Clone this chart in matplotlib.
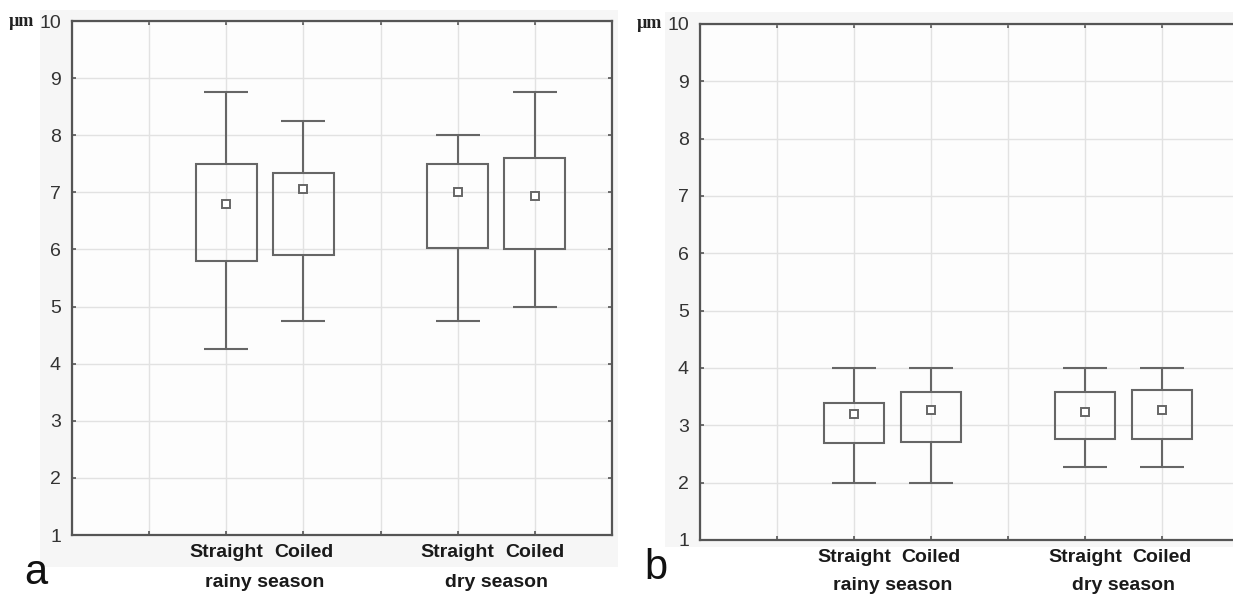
import matplotlib.pyplot as plt
from matplotlib.patches import Rectangle

groups = ['rainy season', 'dry season']
forms = ['Straight', 'Coiled']
xpos = [2, 3, 5, 6]

# panel a: whisker max, box top, mean, box bottom, whisker min
a_wmax = [8.75, 8.25, 8.0, 8.75]
a_q3 = [7.5, 7.33, 7.5, 7.6]
a_mean = [6.8, 7.05, 7.0, 6.93]
a_q1 = [5.8, 5.9, 6.02, 6.0]
a_wmin = [4.25, 4.75, 4.75, 5.0]

# panel b
b_wmax = [4.0, 4.0, 4.0, 4.0]
b_q3 = [3.39, 3.58, 3.58, 3.62]
b_mean = [3.2, 3.26, 3.23, 3.26]
b_q1 = [2.69, 2.71, 2.76, 2.76]
b_wmin = [2.0, 2.0, 2.27, 2.27]

W, H = 1233, 594
fig = plt.figure(figsize=(W / 100, H / 100), dpi=100)
fig.patch.set_facecolor('white')

# light grey screenshot backgrounds
fig.patches.append(Rectangle((40 / W, 1 - 567 / H), 578 / W, 557 / H, transform=fig.transFigure,
                             facecolor='#f6f6f6', edgecolor='none', zorder=-5))
fig.patches.append(Rectangle((665 / W, 1 - 547 / H), 600 / W, 535 / H, transform=fig.transFigure,
                             facecolor='#f6f6f6', edgecolor='none', zorder=-5))

lc = '#666666'
lab_font = ['Liberation Sans Narrow', 'Liberation Sans', 'DejaVu Sans']


def panel(rect, wmax, q3, mean, q1, wmin, letter, letter_xy, lab_y, grp_y, um_xy):
    ax = fig.add_axes(rect)
    ax.set_facecolor('#fdfdfd')
    ax.set_xlim(0, 7)
    ax.set_ylim(1, 10)
    ax.set_axisbelow(True)
    ax.grid(True, color='#e2e2e2', lw=1.0)
    ax.set_xticks(range(8))
    ax.set_xticklabels([])
    ax.set_yticks(range(1, 11))
    ax.tick_params(axis='both', direction='in', length=3, width=1.2, color='#555555',
                   top=True, right=True, labelsize=14, labelcolor='#333333', pad=8)
    for t in ax.get_yticklabels():
        t.set_family(['Liberation Sans', 'DejaVu Sans'])
    for s in ax.spines.values():
        s.set_color('#555555')
        s.set_linewidth(1.6)

    hq = [b - a for a, b in zip(q1, q3)]
    ax.bar(xpos, hq, bottom=q1, width=0.79, fill=False, edgecolor=lc, linewidth=1.5, zorder=3)
    ax.vlines(xpos, q3, wmax, color=lc, lw=1.5, zorder=3)
    ax.vlines(xpos, wmin, q1, color=lc, lw=1.5, zorder=3)
    ax.hlines(wmax, [x - 0.285 for x in xpos], [x + 0.285 for x in xpos], color=lc, lw=1.5, zorder=3)
    ax.hlines(wmin, [x - 0.285 for x in xpos], [x + 0.285 for x in xpos], color=lc, lw=1.5, zorder=3)
    ax.plot(xpos, mean, 's', ms=6, mfc='white', mec=lc, mew=1.4, ls='none', zorder=4)

    trans = ax.get_xaxis_transform()
    for x, f in zip(xpos, forms * 2):
        ax.text(x, lab_y, f, transform=trans, ha='center', va='center', fontsize=14,
                fontweight='bold', family=lab_font, color='#1a1a1a', clip_on=False)
    for x, g in zip([2.5, 5.5], groups):
        ax.text(x, grp_y, g, transform=trans, ha='center', va='center', fontsize=14,
                fontweight='bold', family=lab_font, color='#1a1a1a', clip_on=False)
    fig.text(letter_xy[0] / W, 1 - letter_xy[1] / H, letter, fontsize=30,
             family=['Liberation Sans', 'DejaVu Sans'], ha='center', va='center', color='#111111')
    fig.text(um_xy[0] / W, 1 - um_xy[1] / H, 'µm', fontsize=13, fontweight='bold',
             family=['Liberation Serif', 'DejaVu Serif'], ha='center', va='center', color='#222222')
    return ax


axa = panel([72 / W, 1 - 535 / H, 540 / W, 514 / H], a_wmax, a_q3, a_mean, a_q1, a_wmin,
            'a', (36, 573), -0.034, -0.092, (21, 21))
axb = panel([700 / W, 1 - 540 / H, 539 / W, 516 / H], b_wmax, b_q3, b_mean, b_q1, b_wmin,
            'b', (656, 568), -0.033, -0.089, (649, 24))

fig.savefig('out.png', dpi=100)
